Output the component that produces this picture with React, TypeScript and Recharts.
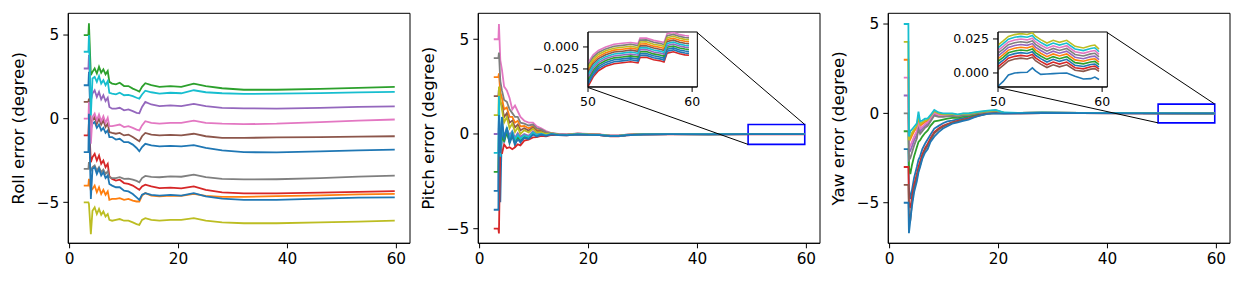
import React from 'react';
import { LineChart, Line, XAxis, YAxis, ReferenceArea, ReferenceLine, Label } from 'recharts';

const FONT = 'DejaVu Sans';
// tab10 cycle, 11 runs so the 11th is blue again
const COLORS = ['#1f77b4', '#ff7f0e', '#2ca02c', '#d62728', '#9467bd', '#8c564b', '#e377c2', '#7f7f7f', '#bcbd22', '#17becf', '#1f77b4'];

// ---------- roll ----------
const ROLL_T = [2.6, 3.45, 3.55, 3.9, 4.2, 4.6, 5.0, 5.4, 5.8, 6.2, 6.6, 7.0, 7.3, 7.8, 8.5, 9.2, 10.0, 10.8, 11.6, 12.3, 12.8, 13.3, 13.9, 15.0, 16.5, 18.5, 20.5, 22.8, 25, 28, 32, 38, 46, 53, 59.7];
const rollBlue = [2, 2, 2.8, -0.6, -0.3, -0.2, -0.55, -0.35, -0.7, -0.55, -0.85, -0.7, -1.1, -1.1, -1.25, -1.2, -1.4, -1.4, -1.55, -1.75, -1.95, -1.7, -1.5, -1.6, -1.65, -1.62, -1.65, -1.58, -1.75, -1.9, -2.0, -2.02, -1.95, -1.9, -1.85];
const rollOrange = [-4, -4, -3.6, -4.3, -4.2, -4.0, -4.4, -4.1, -4.5, -4.25, -4.55, -4.35, -4.85, -4.8, -4.8, -4.75, -4.85, -4.8, -4.9, -4.95, -4.95, -4.6, -4.45, -4.6, -4.65, -4.6, -4.62, -4.5, -4.62, -4.68, -4.67, -4.63, -4.58, -4.53, -4.5];
const rollGreen = [5, 5, 5.7, 2.6, 2.8, 3.0, 2.7, 3.1, 2.75, 2.95, 2.65, 2.85, 2.2, 2.1, 2.05, 2.15, 1.95, 1.95, 1.8, 1.7, 1.62, 1.9, 2.12, 2.0, 1.9, 1.95, 1.9, 2.1, 1.95, 1.82, 1.73, 1.73, 1.78, 1.84, 1.9];
const rollRed = [-1, -1, -0.2, -2.6, -2.3, -2.1, -2.5, -2.2, -2.7, -2.5, -2.9, -2.7, -3.45, -3.6, -3.7, -3.65, -3.85, -3.9, -4.0, -4.15, -4.25, -4.05, -3.95, -4.05, -4.15, -4.12, -4.17, -4.05, -4.25, -4.4, -4.47, -4.47, -4.42, -4.38, -4.33];
const rollPurple = [3, 3, 3.8, 1.1, 1.5, 1.7, 1.3, 1.6, 1.15, 1.4, 1.05, 1.25, 0.7, 0.6, 0.6, 0.65, 0.5, 0.55, 0.45, 0.35, 0.33, 0.7, 1.0, 0.85, 0.75, 0.8, 0.75, 0.88, 0.75, 0.65, 0.62, 0.6, 0.65, 0.7, 0.73];
const rollBrown = [1, 1, 1.2, -0.4, -0.1, 0.1, -0.3, 0.0, -0.35, -0.1, -0.5, -0.3, -0.8, -0.85, -0.9, -0.85, -1.0, -0.95, -1.1, -1.25, -1.35, -1.05, -0.85, -0.95, -1.0, -0.97, -1.0, -0.9, -1.05, -1.15, -1.15, -1.12, -1.1, -1.07, -1.05];
const rollPink = [0, 0, 1.0, -1.5, 0.1, 0.3, -0.1, 0.25, -0.15, 0.15, -0.25, 0.05, -0.45, -0.45, -0.4, -0.35, -0.5, -0.45, -0.55, -0.65, -0.7, -0.4, -0.15, -0.25, -0.3, -0.25, -0.25, -0.12, -0.25, -0.3, -0.33, -0.3, -0.2, -0.12, -0.05];
const rollGray = [-3, -3, -2.6, -3.1, -2.9, -2.8, -3.1, -2.9, -3.2, -3.05, -3.3, -3.15, -3.5, -3.55, -3.55, -3.5, -3.6, -3.58, -3.65, -3.72, -3.8, -3.55, -3.42, -3.48, -3.5, -3.45, -3.47, -3.35, -3.5, -3.6, -3.63, -3.62, -3.55, -3.47, -3.4];
const rollOlive = [-5, -5, -5.1, -6.9, -5.5, -5.3, -5.7, -5.4, -5.75, -5.55, -5.85, -5.7, -6.05, -6.1, -6.05, -6.0, -6.1, -6.1, -6.2, -6.3, -6.35, -6.05, -5.95, -6.05, -6.1, -6.05, -6.05, -5.95, -6.1, -6.2, -6.25, -6.25, -6.2, -6.15, -6.1];
const rollCyan = [4, 4, 5.0, 0.2, 2.4, 2.5, 2.2, 2.55, 2.1, 2.3, 2.0, 2.25, 1.55, 1.5, 1.45, 1.55, 1.4, 1.42, 1.35, 1.25, 1.2, 1.45, 1.67, 1.58, 1.5, 1.55, 1.52, 1.7, 1.58, 1.52, 1.48, 1.5, 1.53, 1.57, 1.6];
const rollBlue2 = [-2, -2, 0.3, -4.8, -3.0, -2.9, -3.3, -3.0, -3.4, -3.2, -3.55, -3.4, -3.9, -4.0, -4.1, -4.1, -4.3, -4.35, -4.5, -4.7, -4.85, -4.55, -4.45, -4.55, -4.6, -4.55, -4.6, -4.45, -4.65, -4.78, -4.85, -4.85, -4.78, -4.72, -4.7];

// ---------- pitch ----------
const PITCH_T = [2.6, 3.45, 3.55, 3.8, 4.1, 4.5, 5.0, 5.5, 6.0, 6.5, 7.0, 7.5, 8.2, 9.0, 9.8, 10.5, 11.3, 12.2, 13.2, 14.5, 16, 18, 20, 22, 24, 25.5, 27, 30, 35, 42, 50, 59.7];
const pitchBlue = [-3, -3, 1.3, -3.6, 0.5, -0.45, 0.2, -0.5, -0.1, -0.6, -0.2, -0.45, -0.17, -0.24, 0.0, -0.11, -0.02, -0.09, -0.01, -0.055, -0.065, -0.015, -0.045, -0.055, -0.115, -0.115, -0.065, -0.02, -0.01, -0.015, -0.01, -0.01];
const pitchOrange = [3, 3, 3.2, 2.2, 1.9, 1.3, 1.4, 0.9, 0.9, 0.6, 0.7, 0.4, 0.42, 0.3, 0.42, 0.22, 0.2, 0.06, 0.035, -0.02, -0.035, 0.015, -0.015, -0.033, -0.092, -0.092, -0.042, -0.007, 0.003, -0.002, 0.003, 0.003];
const pitchGreen = [-2, -2, 0.5, -0.9, -0.2, -0.35, 0.05, -0.4, 0.0, -0.45, -0.15, -0.35, -0.12, -0.2, 0.04, -0.08, 0.0, -0.08, 0.0, -0.05, -0.06, -0.01, -0.04, -0.05, -0.11, -0.11, -0.06, -0.018, -0.008, -0.013, -0.008, -0.008];
const pitchRed = [-5, -5, -5.25, -0.5, -1.05, -0.55, -0.75, -0.7, -0.8, -0.7, -0.55, -0.6, -0.35, -0.3, -0.18, -0.17, -0.1, -0.12, -0.05, -0.065, -0.075, -0.025, -0.055, -0.065, -0.125, -0.125, -0.075, -0.026, -0.016, -0.021, -0.016, -0.016];
const pitchPurple = [0, 0, 0.8, 0.2, 0.3, -0.1, 0.25, -0.05, 0.15, -0.2, 0.05, -0.15, 0.0, -0.1, 0.15, 0.0, 0.05, -0.05, 0.02, -0.04, -0.05, 0.0, -0.03, -0.04, -0.1, -0.1, -0.05, -0.014, -0.004, -0.009, -0.004, -0.004];
const pitchBrown = [2, 2, 2.4, 1.7, 1.5, 0.9, 1.1, 0.6, 0.7, 0.35, 0.5, 0.2, 0.3, 0.18, 0.35, 0.15, 0.15, 0.03, 0.03, -0.03, -0.04, 0.01, -0.02, -0.035, -0.095, -0.095, -0.045, -0.01, 0.0, -0.005, 0.0, 0.0];
const pitchPink = [5, 5, 5.8, 3.9, 3.4, 2.5, 2.3, 1.9, 1.3, 1.5, 1.2, 0.9, 0.7, 0.6, 0.6, 0.4, 0.3, 0.15, 0.05, 0.0, -0.02, 0.03, 0.0, -0.02, -0.08, -0.08, -0.03, 0.0, 0.01, 0.0, 0.01, 0.01];
const pitchGray = [4, 4, 4.3, 2.8, 2.3, 1.8, 1.7, 1.3, 1.1, 0.9, 0.9, 0.6, 0.55, 0.45, 0.5, 0.3, 0.25, 0.1, 0.04, -0.01, -0.03, 0.02, -0.01, -0.03, -0.09, -0.09, -0.04, -0.005, 0.005, 0.0, 0.005, 0.005];
const pitchOlive = [1, 1, 2.5, 1.8, 1.3, 0.6, 0.9, 0.3, 0.55, 0.1, 0.35, 0.0, 0.2, 0.08, 0.28, 0.08, 0.1, 0.0, 0.025, -0.035, -0.045, 0.005, -0.025, -0.038, -0.098, -0.098, -0.048, -0.012, -0.002, -0.007, -0.002, -0.002];
const pitchCyan = [-1, -1, 2.0, -1.2, 0.6, -0.2, 0.3, -0.25, 0.1, -0.3, -0.05, -0.25, -0.07, -0.16, 0.08, -0.05, 0.02, -0.07, 0.01, -0.045, -0.055, -0.005, -0.035, -0.045, -0.105, -0.105, -0.055, -0.016, -0.006, -0.011, -0.006, -0.006];
const pitchBlue2 = [-4, -4, 1.0, -1.0, 0.9, -0.3, 0.35, -0.45, 0.0, -0.5, -0.3, -0.4, -0.2, -0.27, -0.03, -0.13, -0.03, -0.1, -0.015, -0.058, -0.068, -0.018, -0.048, -0.058, -0.118, -0.118, -0.068, -0.022, -0.012, -0.017, -0.012, -0.012];

// pitch zoom window, t in [50, 60]
const PITCH_ZOOM_T = [50, 50.5, 51, 51.7, 52.5, 53.3, 54.1, 54.8, 55.0, 55.6, 56.3, 57.0, 57.3, 57.6, 58.2, 58.8, 59.3, 59.7];
const pzBlue = [-0.0396, -0.0290, -0.0224, -0.0176, -0.0146, -0.0136, -0.0124, -0.0138, -0.0076, -0.0074, -0.0101, -0.0116, -0.0128, -0.0026, -0.0011, -0.0034, -0.0046, -0.0051];
const pzOrange = [-0.0261, -0.0165, -0.0109, -0.0066, -0.0036, -0.0026, -0.0014, -0.0028, 0.0034, 0.0036, 0.0009, -0.0006, -0.0018, 0.0084, 0.0099, 0.0076, 0.0064, 0.0059];
const pzGreen = [-0.0369, -0.0265, -0.0201, -0.0154, -0.0124, -0.0114, -0.0102, -0.0116, -0.0054, -0.0052, -0.0079, -0.0094, -0.0106, -0.0004, 0.0011, -0.0012, -0.0024, -0.0029];
const pzRed = [-0.0450, -0.0340, -0.0270, -0.0220, -0.0190, -0.0180, -0.0168, -0.0182, -0.0120, -0.0118, -0.0145, -0.0160, -0.0172, -0.0070, -0.0055, -0.0078, -0.0090, -0.0095];
const pzPurple = [-0.0342, -0.0240, -0.0178, -0.0132, -0.0102, -0.0092, -0.0080, -0.0094, -0.0032, -0.0030, -0.0057, -0.0072, -0.0084, 0.0018, 0.0033, 0.0010, -0.0002, -0.0007];
const pzBrown = [-0.0288, -0.0190, -0.0132, -0.0088, -0.0058, -0.0048, -0.0036, -0.0050, 0.0012, 0.0014, -0.0013, -0.0028, -0.0040, 0.0062, 0.0077, 0.0054, 0.0042, 0.0037];
const pzPink = [-0.0180, -0.0090, -0.0040, 0.0000, 0.0030, 0.0042, 0.0050, 0.0038, 0.0100, 0.0100, 0.0075, 0.0060, 0.0050, 0.0150, 0.0165, 0.0140, 0.0130, 0.0125];
const pzGray = [-0.0207, -0.0115, -0.0063, -0.0022, 0.0008, 0.0018, 0.0030, 0.0016, 0.0078, 0.0080, 0.0053, 0.0038, 0.0026, 0.0128, 0.0143, 0.0120, 0.0108, 0.0103];
const pzOlive = [-0.0234, -0.0140, -0.0086, -0.0044, -0.0014, -0.0004, 0.0008, -0.0006, 0.0056, 0.0058, 0.0031, 0.0016, 0.0004, 0.0106, 0.0121, 0.0098, 0.0086, 0.0081];
const pzCyan = [-0.0315, -0.0215, -0.0155, -0.0110, -0.0080, -0.0070, -0.0058, -0.0072, -0.0010, -0.0008, -0.0035, -0.0050, -0.0062, 0.0040, 0.0055, 0.0032, 0.0020, 0.0015];
const pzBlue2 = [-0.0423, -0.0315, -0.0247, -0.0198, -0.0168, -0.0158, -0.0146, -0.0160, -0.0098, -0.0096, -0.0123, -0.0138, -0.0150, -0.0048, -0.0033, -0.0056, -0.0068, -0.0073];

// ---------- yaw ----------
const YAW_T = [2.6, 3.45, 3.55, 3.8, 4.1, 4.5, 5.0, 5.3, 5.6, 6.0, 6.5, 7.0, 7.5, 8.2, 9.0, 9.8, 10.6, 11.5, 12.5, 13.5, 14.5, 15.5, 16.5, 18, 19.5, 21, 24, 28, 35, 45, 59.7];
const yawBlue = [-2, -2, -4.2, -4.8, -4.3, -3.6, -3.0, -2.6, -2.4, -2.0, -1.7, -1.45, -1.2, -0.85, -0.7, -0.55, -0.45, -0.4, -0.33, -0.26, -0.2, -0.12, -0.05, 0.03, 0.06, 0.01, 0.01, 0.03, 0.01, 0.01, 0.0];
const yawOrange = [3, 3, -1.6, -1.45, -1.25, -1.0, -0.8, -0.25, -0.7, -0.6, -0.48, -0.42, -0.2, 0.08, -0.04, -0.08, -0.07, -0.05, -0.1, -0.04, -0.03, 0.02, 0.07, 0.11, 0.15, 0.03, 0.02, 0.04, 0.02, 0.01, 0.0];
const yawGreen = [-1, -1, -3.0, -3.4, -2.9, -2.4, -1.9, -1.6, -1.5, -1.3, -1.1, -0.95, -0.7, -0.45, -0.4, -0.35, -0.3, -0.25, -0.25, -0.18, -0.14, -0.08, -0.01, 0.06, 0.1, 0.02, 0.01, 0.03, 0.02, 0.01, 0.0];
const yawRed = [-3, -3, -5.0, -5.3, -4.7, -4.0, -3.4, -3.0, -2.7, -2.3, -1.95, -1.7, -1.4, -1.05, -0.85, -0.7, -0.6, -0.5, -0.42, -0.35, -0.28, -0.18, -0.1, 0.0, 0.03, 0.0, 0.0, 0.02, 0.01, 0.0, 0.0];
const yawPurple = [1, 1, -2.2, -2.1, -1.85, -1.5, -1.2, -0.7, -1.0, -0.85, -0.7, -0.6, -0.38, -0.05, -0.15, -0.16, -0.14, -0.11, -0.15, -0.09, -0.07, -0.02, 0.04, 0.09, 0.13, 0.03, 0.02, 0.04, 0.02, 0.01, 0.0];
const yawBrown = [-4, -4, -5.6, -6.0, -5.0, -4.2, -3.6, -3.2, -2.9, -2.45, -2.05, -1.8, -1.5, -1.12, -0.9, -0.75, -0.63, -0.52, -0.45, -0.37, -0.3, -0.2, -0.12, -0.02, 0.02, 0.0, 0.0, 0.02, 0.01, 0.0, 0.0];
const yawPink = [2, 2, -2.0, -1.8, -1.6, -1.3, -1.0, -0.5, -0.85, -0.75, -0.6, -0.5, -0.3, 0.02, -0.1, -0.12, -0.1, -0.08, -0.12, -0.06, -0.05, 0.0, 0.05, 0.1, 0.14, 0.03, 0.02, 0.04, 0.02, 0.01, 0.0];
const yawGray = [0, 0, -2.6, -2.5, -2.2, -1.8, -1.4, -0.9, -1.15, -1.0, -0.8, -0.7, -0.45, -0.12, -0.2, -0.2, -0.17, -0.14, -0.18, -0.11, -0.09, -0.03, 0.03, 0.08, 0.12, 0.02, 0.02, 0.04, 0.02, 0.01, 0.0];
const yawOlive = [4, 4, -1.5, -1.3, -1.1, -0.9, -0.7, -0.1, -0.6, -0.5, -0.4, -0.35, -0.15, 0.12, 0.0, -0.05, -0.05, -0.03, -0.08, -0.02, -0.02, 0.03, 0.08, 0.12, 0.17, 0.04, 0.02, 0.04, 0.02, 0.01, 0.0];
const yawCyan = [5, 5, -1.3, -1.0, -0.9, -0.75, -0.56, 0.1, -0.45, -0.4, -0.3, -0.28, -0.1, 0.19, 0.05, 0.0, 0.0, 0.0, -0.05, 0.0, 0.0, 0.05, 0.1, 0.15, 0.2, 0.05, 0.02, 0.05, 0.02, 0.01, 0.0];
const yawBlue2 = [-5, -5, -6.7, -6.0, -5.2, -4.4, -3.8, -3.3, -3.0, -2.55, -2.2, -2.0, -1.6, -1.3, -1.05, -0.85, -0.72, -0.58, -0.5, -0.42, -0.35, -0.22, -0.12, -0.03, 0.0, -0.01, 0.0, 0.02, 0.01, 0.0, 0.0];

const YAW_ZOOM_T = [50, 50.5, 51, 51.6, 52.2, 52.8, 53.3, 53.6, 54.1, 54.7, 55.3, 55.9, 56.6, 57.4, 58.2, 58.9, 59.3, 59.7];
const yzBlue = [0.0065, 0.0095, 0.0128, 0.0142, 0.0149, 0.0143, 0.0156, 0.0130, 0.0105, 0.0080, 0.0100, 0.0085, 0.0100, 0.0056, 0.0048, 0.0062, 0.0066, 0.0042];
const yzOrange = [0.0105, 0.0135, 0.0168, 0.0182, 0.0189, 0.0183, 0.0196, 0.0170, 0.0145, 0.0120, 0.0140, 0.0125, 0.0140, 0.0096, 0.0086, 0.0100, 0.0104, 0.0080];
const yzGreen = [0.0085, 0.0115, 0.0148, 0.0162, 0.0169, 0.0163, 0.0176, 0.0150, 0.0125, 0.0100, 0.0120, 0.0105, 0.0120, 0.0076, 0.0067, 0.0081, 0.0085, 0.0061];
const yzRed = [0.0045, 0.0075, 0.0108, 0.0122, 0.0129, 0.0123, 0.0136, 0.0110, 0.0085, 0.0060, 0.0080, 0.0065, 0.0080, 0.0038, 0.0030, 0.0046, 0.0050, 0.0028];
const yzPurple = [0.0125, 0.0155, 0.0188, 0.0202, 0.0209, 0.0203, 0.0216, 0.0190, 0.0165, 0.0140, 0.0160, 0.0145, 0.0160, 0.0116, 0.0105, 0.0120, 0.0124, 0.0098];
const yzBrown = [0.0025, 0.0055, 0.0088, 0.0102, 0.0109, 0.0103, 0.0116, 0.0090, 0.0065, 0.0040, 0.0060, 0.0045, 0.0060, 0.0020, 0.0012, 0.0028, 0.0032, 0.0012];
const yzPink = [0.0165, 0.0195, 0.0228, 0.0242, 0.0249, 0.0243, 0.0256, 0.0230, 0.0205, 0.0180, 0.0200, 0.0185, 0.0200, 0.0156, 0.0144, 0.0160, 0.0165, 0.0137];
const yzGray = [0.0145, 0.0175, 0.0208, 0.0222, 0.0229, 0.0223, 0.0236, 0.0210, 0.0185, 0.0160, 0.0180, 0.0165, 0.0180, 0.0136, 0.0125, 0.0140, 0.0145, 0.0118];
const yzOlive = [0.0205, 0.0235, 0.0268, 0.0282, 0.0289, 0.0283, 0.0296, 0.0270, 0.0245, 0.0220, 0.0240, 0.0225, 0.0240, 0.0196, 0.0184, 0.0200, 0.0205, 0.0175];
const yzCyan = [0.0185, 0.0215, 0.0248, 0.0262, 0.0269, 0.0263, 0.0276, 0.0250, 0.0225, 0.0200, 0.0220, 0.0205, 0.0220, 0.0176, 0.0164, 0.0180, 0.0185, 0.0156];
const yzBlue2 = [-0.0098, -0.0062, -0.0015, 0.0000, 0.0003, 0.0005, 0.0037, 0.0015, -0.0010, -0.0008, -0.0005, -0.0002, 0.0000, -0.0025, -0.0044, -0.0042, -0.0030, -0.0048];

// layout (px)
const CHART_W = 420;
const CHART_H = 282;
const PLOT_L = 68.3;
const PLOT_T = 13.3;
const PLOT_W = 341.7;
const PLOT_H = 230;
const X_DOMAIN: [number, number] = [-0.24, 62.5];
// inset bounds in axes fraction: left, bottom, width, height
const INSET = [0.32, 0.678, 0.32, 0.239];
const INSET_YW = 62;
const INSET_TOP = 2;
const INSET_RIGHT = 4;
const INSET_XH = 24;

const minus = (v: number) => (v < 0 ? '\u2212' + Math.abs(v) : String(v));
const minus3 = (v: number) => (v < 0 ? '\u2212' + Math.abs(v).toFixed(3) : v.toFixed(3));

function toRows(t: number[], series: number[][]) {
  return t.map((x, i) => {
    const r: any = { x };
    series.forEach((s, k) => { r['s' + k] = s[i]; });
    return r;
  });
}

function Inset({ t, series, yDomain, yTicks }: any) {
  const w = PLOT_W * INSET[2];
  const h = PLOT_H * INSET[3];
  const left = PLOT_L + PLOT_W * INSET[0] - INSET_YW;
  const top = PLOT_T + PLOT_H * (1 - INSET[1] - INSET[3]) - INSET_TOP;
  const xd: [number, number] = [50, 60.5];
  return (
    <div style={{ position: 'absolute', left, top }}>
      <LineChart width={INSET_YW + w + INSET_RIGHT} height={INSET_TOP + h + INSET_XH} data={toRows(t, series)}
        margin={{ top: INSET_TOP, right: INSET_RIGHT, bottom: 0, left: 0 }}>
        <ReferenceArea x1={xd[0]} x2={xd[1]} y1={yDomain[0]} y2={yDomain[1]} fill="#fff" fillOpacity={1} stroke="none" ifOverflow="visible" />
        <XAxis type="number" dataKey="x" domain={xd} ticks={[50, 60]} allowDataOverflow height={INSET_XH}
          tickSize={5} tickMargin={5} stroke="#000" tick={{ fill: '#000', fontSize: 12.5, fontFamily: FONT }} />
        <YAxis type="number" domain={yDomain} ticks={yTicks} allowDataOverflow width={INSET_YW} tickFormatter={minus3}
          tickSize={5} tickMargin={4} stroke="#000" tick={{ fill: '#000', fontSize: 12.5, fontFamily: FONT }} />
        {series.map((_: number[], k: number) => (
          <Line key={k} type="linear" dataKey={'s' + k} stroke={COLORS[k]} strokeWidth={1.6} dot={false} isAnimationActive={false} />
        ))}
        <ReferenceArea x1={xd[0]} x2={xd[1]} y1={yDomain[0]} y2={yDomain[1]} fill="none" stroke="#000" strokeWidth={1} ifOverflow="visible" />
      </LineChart>
    </div>
  );
}

function Panel({ left, title, t, series, yDomain, zoomBox, zoom }: any) {
  const fx = (f: number) => X_DOMAIN[0] + f * (X_DOMAIN[1] - X_DOMAIN[0]);
  const fy = (f: number) => yDomain[0] + f * (yDomain[1] - yDomain[0]);
  return (
    <div style={{ position: 'absolute', left, top: 0 }}>
      <LineChart width={CHART_W} height={CHART_H} data={toRows(t, series)}
        margin={{ top: PLOT_T, right: CHART_W - PLOT_L - PLOT_W, bottom: 0, left: 0 }}>
        <XAxis type="number" dataKey="x" domain={X_DOMAIN} ticks={[0, 20, 40, 60]} allowDataOverflow
          height={CHART_H - PLOT_T - PLOT_H} tickSize={5} tickMargin={5} stroke="#000"
          tick={{ fill: '#000', fontSize: 15.3, fontFamily: FONT }} />
        <YAxis type="number" domain={yDomain} ticks={[-5, 0, 5]} allowDataOverflow width={PLOT_L}
          tickFormatter={minus} tickSize={5} tickMargin={4} stroke="#000"
          tick={{ fill: '#000', fontSize: 15.3, fontFamily: FONT }}>
          <Label content={() => (
            <text x={18.3} y={PLOT_T + PLOT_H / 2} transform={`rotate(-90 18.3 ${PLOT_T + PLOT_H / 2})`}
              textAnchor="middle" dominantBaseline="central" fontSize={16.7} fontFamily={FONT} fill="#000">{title}</text>
          )} />
        </YAxis>
        {series.map((_: number[], k: number) => (
          <Line key={k} type="linear" dataKey={'s' + k} stroke={COLORS[k]} strokeWidth={1.8} dot={false} isAnimationActive={false} />
        ))}
        <ReferenceArea x1={X_DOMAIN[0]} x2={X_DOMAIN[1]} y1={yDomain[0]} y2={yDomain[1]} fill="none" stroke="#000" strokeWidth={1} ifOverflow="visible" />
        {zoomBox && (
          <ReferenceArea x1={zoomBox[0]} x2={zoomBox[1]} y1={zoomBox[2]} y2={zoomBox[3]} fill="none" stroke="#0000ff" strokeWidth={1.6} ifOverflow="visible" />
        )}
        {zoomBox && (
          <ReferenceLine ifOverflow="visible" stroke="#000" strokeWidth={1}
            segment={[{ x: fx(INSET[0] + INSET[2]), y: fy(INSET[1] + INSET[3]) }, { x: zoomBox[1], y: zoomBox[3] }]} />
        )}
        {zoomBox && (
          <ReferenceLine ifOverflow="visible" stroke="#000" strokeWidth={1}
            segment={[{ x: fx(INSET[0]), y: fy(INSET[1]) }, { x: zoomBox[0], y: zoomBox[2] }]} />
        )}
      </LineChart>
      {zoom && <Inset {...zoom} />}
    </div>
  );
}

export default function App() {
  const roll = [rollBlue, rollOrange, rollGreen, rollRed, rollPurple, rollBrown, rollPink, rollGray, rollOlive, rollCyan, rollBlue2];
  const pitch = [pitchBlue, pitchOrange, pitchGreen, pitchRed, pitchPurple, pitchBrown, pitchPink, pitchGray, pitchOlive, pitchCyan, pitchBlue2];
  const pitchZoom = [pzBlue, pzOrange, pzGreen, pzRed, pzPurple, pzBrown, pzPink, pzGray, pzOlive, pzCyan, pzBlue2];
  const yaw = [yawBlue, yawOrange, yawGreen, yawRed, yawPurple, yawBrown, yawPink, yawGray, yawOlive, yawCyan, yawBlue2];
  const yawZoom = [yzBlue, yzOrange, yzGreen, yzRed, yzPurple, yzBrown, yzPink, yzGray, yzOlive, yzCyan, yzBlue2];
  return (
    <div style={{ position: 'absolute', left: 0, top: 0, width: 1243, height: 282, background: '#fff', fontFamily: FONT }}>
      <Panel left={0} title="Roll error (degree)" t={ROLL_T} series={roll} yDomain={[-7.45, 6.3]} />
      <Panel left={410} title="Pitch error (degree)" t={PITCH_T} series={pitch} yDomain={[-5.77, 6.37]}
        zoomBox={[49.3, 59.7, -0.55, 0.5]}
        zoom={{ t: PITCH_ZOOM_T, series: pitchZoom, yDomain: [-0.0455, 0.017], yTicks: [-0.025, 0] }} />
      <Panel left={820} title="Yaw error (degree)" t={YAW_T} series={yaw} yDomain={[-7.27, 5.6]}
        zoomBox={[49.3, 59.7, -0.53, 0.52]}
        zoom={{ t: YAW_ZOOM_T, series: yawZoom, yDomain: [-0.0103, 0.0301], yTicks: [0, 0.025] }} />
    </div>
  );
}
